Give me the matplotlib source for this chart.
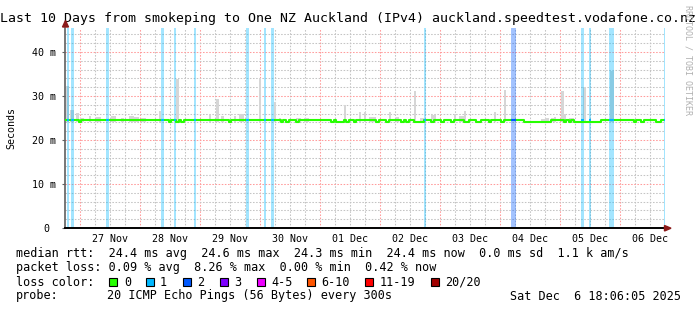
import numpy as np
import matplotlib
matplotlib.use("Agg")
import matplotlib.pyplot as plt
from matplotlib.patches import Rectangle, Polygon
from datetime import datetime, timedelta

# ---------------- data ----------------
start_time = datetime(2025, 11, 26, 18, 6, 5)
span_hours = 240.0
y_max = 45.45

# loss events (hours since start)
loss_start = [0.8, 2.4, 16.4, 38.4, 43.6, 51.6, 72.4, 79.6, 82.4, 143.6,
              178.4, 206.4, 209.6, 217.6, 239.4]
loss_dur = [0.8, 1.2, 1.2, 1.2, 0.8, 0.8, 1.2, 0.8, 1.2, 0.8,
            2.0, 1.2, 0.8, 2.0, 0.6]
loss_level = [1, 1, 1, 1, 1, 1, 1, 1, 1, 1,
              2, 1, 1, 1, 1]

# median rtt (ms): base level with short dips
median_base = 24.45
median_dip = 24.2
dip_start = [5.6, 41.6, 44.4, 46.4, 65.6, 86.4, 88.4, 92.4, 106.4, 108.4,
             112.4, 115.6, 124.4, 128.4, 134.4, 136.4, 139.6, 146.4, 150.4,
             154.4, 159.6, 164.4, 169.6, 174.4, 183.6, 199.6, 201.6, 203.6,
             227.6, 230.4, 236.4]
dip_dur = [0.8, 0.8, 1.2, 1.2, 0.8, 0.8, 1.2, 1.2, 1.2, 3.2,
           1.2, 0.8, 1.2, 1.2, 1.2, 1.2, 4.0, 1.2, 1.2,
           1.2, 2.0, 2.0, 0.8, 1.2, 10.8, 0.8, 0.8, 10.8,
           0.8, 1.2, 2.0]

# smoke (ping spread) max values
smoke_start = [0.4, 2.0, 4.4, 6.0, 9.6, 12.4, 18.4, 22.4, 25.6, 27.6, 30.4,
               37.6, 44.4, 57.6, 60.4, 62.4, 67.6, 69.6, 77.6, 83.6, 85.6,
               92.4, 95.6, 111.6, 117.6, 119.6, 121.6, 129.6, 132.4, 139.6,
               142.0, 146.4, 155.6, 157.6, 159.6, 171.6, 175.6, 190.4, 192.0,
               194.4, 195.6, 198.4, 199.6, 201.6, 207.2, 218.0]
smoke_dur = [1.2, 1.6, 1.2, 1.6, 0.8, 2.0, 2.0, 1.2, 2.0, 2.0, 2.0,
             0.8, 1.2, 0.8, 1.2, 1.2, 0.8, 2.0, 0.8, 0.8, 0.8,
             2.0, 2.0, 0.8, 0.8, 0.8, 2.8, 0.8, 1.2, 0.8,
             1.6, 2.0, 0.8, 2.0, 0.8, 0.8, 0.8, 2.0, 1.6,
             1.2, 0.8, 1.2, 0.8, 2.0, 1.2, 1.6]
smoke_top = [32.3, 26.8, 26.1, 25.0, 25.5, 25.3, 25.5, 25.0, 25.5, 25.3, 25.0,
             26.6, 33.9, 25.7, 29.3, 25.5, 25.5, 25.8, 34.1, 28.6, 25.0,
             25.0, 25.0, 28.0, 26.4, 26.4, 25.3, 26.4, 25.3, 31.1,
             25.0, 25.7, 25.9, 25.5, 26.6, 26.4, 31.4, 24.8, 25.0,
             25.0, 25.3, 31.1, 26.0, 25.0, 32.0, 35.6]
smoke_bottom = 24.0

y_ticks = [0, 10, 20, 30, 40]
y_ticklabels = ["0 ", "10 m", "20 m", "30 m", "40 m"]

legend_names = ["0", "1", "2", "3", "4-5", "6-10", "11-19", "20/20"]
legend_colors = ["#26ff00", "#00b8ff", "#0059ff", "#7e00ff", "#ee00ff",
                 "#ff5500", "#ff0000", "#a10000"]

title = "Last 10 Days from smokeping to One NZ Auckland (IPv4) auckland.speedtest.vodafone.co.nz"
line_rtt = "median rtt:  24.4 ms avg  24.6 ms max  24.3 ms min  24.4 ms now  0.0 ms sd  1.1 k am/s"
line_loss = "packet loss: 0.09 % avg  8.26 % max  0.00 % min  0.42 % now"
probe_text = "20 ICMP Echo Pings (56 Bytes) every 300s"
date_text = "Sat Dec  6 18:06:05 2025"

# ---------------- figure ----------------
W, H = 697, 310
fig = plt.figure(figsize=(W / 100, H / 100), dpi=100)
fig.patch.set_facecolor("white")
MONO = "DejaVu Sans Mono"


def fx(x):
    return x / W


def fy(y):
    return 1 - y / H


ax = fig.add_axes([fx(65), fy(228), 600 / W, 200 / H])
ax.set_xlim(0, span_hours)
ax.set_ylim(0, y_max)
ax.set_facecolor("white")

# grid
midnight0 = (datetime(2025, 11, 27) - start_time).total_seconds() / 3600.0
majors = [midnight0 + 24 * k for k in range(10)]
minors = np.arange(midnight0 - 18, span_hours, 6.0)
dot = (0, (1.5, 1.5))
for m in minors:
    if m > 0 and all(abs(m - M) > 1e-6 for M in majors):
        ax.axvline(m, color="#c4c4c4", lw=0.75, ls=dot, zorder=0)
for M in majors:
    ax.axvline(M, color="#ff9c9c", lw=0.75, ls=dot, zorder=0)
for v in np.arange(2, y_max, 2):
    if abs(v % 10) < 1e-6:
        ax.axhline(v, color="#ff9c9c", lw=0.75, ls=dot, zorder=0)
    else:
        ax.axhline(v, color="#c4c4c4", lw=0.75, ls=dot, zorder=0)

# smoke
ax.bar(smoke_start, np.array(smoke_top) - smoke_bottom, width=smoke_dur,
       bottom=smoke_bottom, align="edge", color="#d6d6d6", lw=0, zorder=1)

# loss bands
band_alpha = 0.36
for s, d, lv in zip(loss_start, loss_dur, loss_level):
    ax.bar(s, y_max, width=d, bottom=0, align="edge",
           color=legend_colors[lv], alpha=band_alpha, lw=0, zorder=2)

# median line
order = np.argsort(dip_start)
xs = [0.0]
ys = [median_base]
for i in order:
    xs += [dip_start[i], dip_start[i] + dip_dur[i]]
    ys += [median_dip, median_base]
xs.append(span_hours)
ys.append(median_base)
ax.step(xs, ys, where="post", color=legend_colors[0], lw=1.5, zorder=3,
        solid_capstyle="butt")
for s, d, lv in zip(loss_start, loss_dur, loss_level):
    ax.hlines(median_base, s, s + d, color=legend_colors[lv], lw=1.5, zorder=4)

# axes styling
for sp in ["top", "right"]:
    ax.spines[sp].set_visible(False)
ax.spines["bottom"].set_color("black")
ax.spines["bottom"].set_linewidth(1.2)
ax.spines["left"].set_color("#606060")
ax.spines["left"].set_linewidth(1.2)

noons = [midnight0 + 12 + 24 * k for k in range(10)]
noon_labels = [(start_time + timedelta(hours=h)).strftime("%d %b") for h in noons]
ax.set_xticks(noons)
ax.set_xticklabels(noon_labels, fontfamily=MONO, fontsize=7.2)
ax.tick_params(axis="x", length=0, pad=4)
ax.set_yticks(y_ticks)
ax.set_yticklabels(y_ticklabels, fontfamily=MONO, fontsize=7.2)
ax.tick_params(axis="y", length=2, width=0.8, pad=4.5, color="#606060")

# axis arrows
arrow_c = "#8b1a1a"
fig.patches.append(Polygon([[fx(664.5), fy(225.5)], [fx(664.5), fy(231)], [fx(671), fy(228.2)]],
                           closed=True, transform=fig.transFigure, color=arrow_c, zorder=10))
fig.patches.append(Polygon([[fx(62.5), fy(27)], [fx(68.5), fy(27)], [fx(65.5), fy(20.5)]],
                           closed=True, transform=fig.transFigure, color=arrow_c, zorder=10))
fig.add_artist(plt.Line2D([fx(65), fx(668)], [fy(228), fy(228)], color="black", lw=1.2,
                          transform=fig.transFigure))

# texts
fig.text(fx(348), fy(18.5), title, ha="center", va="center", fontfamily=MONO, fontsize=9.55)
fig.text(fx(11), fy(128), "Seconds", rotation=90, ha="center", va="center",
         fontfamily=MONO, fontsize=7.2)
fig.text(fx(688), fy(5), "RRDTOOL / TOBI OETIKER", rotation=270, ha="center", va="top",
         fontfamily=MONO, fontsize=6, color="#b0b0b0")

lfs = 8.5
fig.text(fx(16), fy(254), line_rtt, ha="left", va="center", fontfamily=MONO, fontsize=lfs)
fig.text(fx(16), fy(268), line_loss, ha="left", va="center", fontfamily=MONO, fontsize=lfs)
fig.text(fx(16), fy(282), "loss color:", ha="left", va="center", fontfamily=MONO, fontsize=lfs)
sq_x = [109, 146, 183, 220, 257, 307, 365, 431]
lab_x = [124, 160, 197, 234, 271, 321, 380, 445]
for c, name, sx, lx in zip(legend_colors, legend_names, sq_x, lab_x):
    fig.patches.append(Rectangle((fx(sx), fy(286)), 8 / W, 8 / H, transform=fig.transFigure,
                                 facecolor=c, edgecolor="black", lw=0.8))
    fig.text(fx(lx), fy(282), name, ha="left", va="center", fontfamily=MONO, fontsize=lfs)
fig.text(fx(16), fy(296), "probe:", ha="left", va="center", fontfamily=MONO, fontsize=lfs)
fig.text(fx(107), fy(296), probe_text, ha="left", va="center", fontfamily=MONO, fontsize=lfs)
fig.text(fx(681), fy(296), date_text, ha="right", va="center", fontfamily=MONO, fontsize=lfs)

fig.savefig("out.png", dpi=100, facecolor="white")
